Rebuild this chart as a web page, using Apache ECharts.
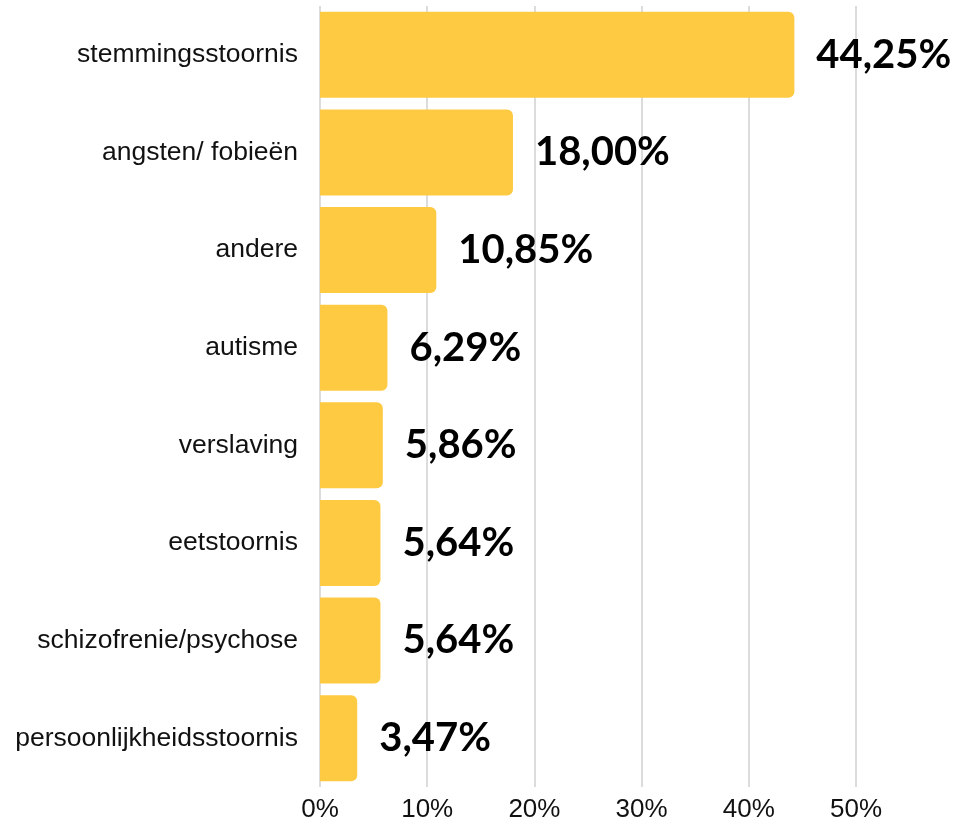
<!DOCTYPE html>
<html>
<head>
<meta charset="utf-8">
<script src="https://cdn.jsdelivr.net/npm/echarts@6/dist/echarts.min.js"></script>
<style>
  html, body { margin: 0; padding: 0; background: #fff; }
  #chart { width: 955px; height: 823px; }
</style>
</head>
<body>
<div id="chart"></div>
<script>
const categories = [
  'stemmingsstoornis',
  'angsten/ fobieën',
  'andere',
  'autisme',
  'verslaving',
  'eetstoornis',
  'schizofrenie/psychose',
  'persoonlijkheidsstoornis',
]
const percentages = [44.25, 18.00, 10.85, 6.29, 5.86, 5.64, 5.64, 3.47]
const axisTicks = [0, 10, 20, 30, 40, 50]

const chart = echarts.init(document.getElementById('chart'))

chart.setOption({
  animation: false,
  grid: {
    left: 320,
    right: 99,
    top: 6,
    bottom: 31,
  },
  xAxis: {
    type: 'value',
    min: axisTicks[0],
    max: axisTicks[axisTicks.length - 1],
    interval: 10,
    axisLine: {show: false},
    axisTick: {show: false},
    splitLine: {lineStyle: {color: '#d0d0d0', width: 1.5}},
    axisLabel: {
      formatter: '{value}%',
      color: '#111',
      fontSize: 26,
      fontFamily: 'Liberation Sans',
      margin: 10,
    },
  },
  yAxis: {
    type: 'category',
    data: categories,
    inverse: true,
    axisLine: {show: false},
    axisTick: {show: false},
    axisLabel: {
      color: '#111',
      fontSize: 26.5,
      fontFamily: 'Liberation Sans',
      margin: 22,
    },
  },
  series: [{
    type: 'bar',
    data: percentages,
    barCategoryGap: '12%',
    itemStyle: {
      color: '#FDCA42',
      borderRadius: [0, 6, 6, 0],
    },
    label: {
      show: true,
      position: 'right',
      distance: 22,
      color: '#000',
      fontSize: 40,
      fontWeight: 'bold',
      fontFamily: 'Lato',
      formatter: p => p.value.toFixed(2).replace('.', ',') + '%',
    },
  }],
})
</script>
</body>
</html>
